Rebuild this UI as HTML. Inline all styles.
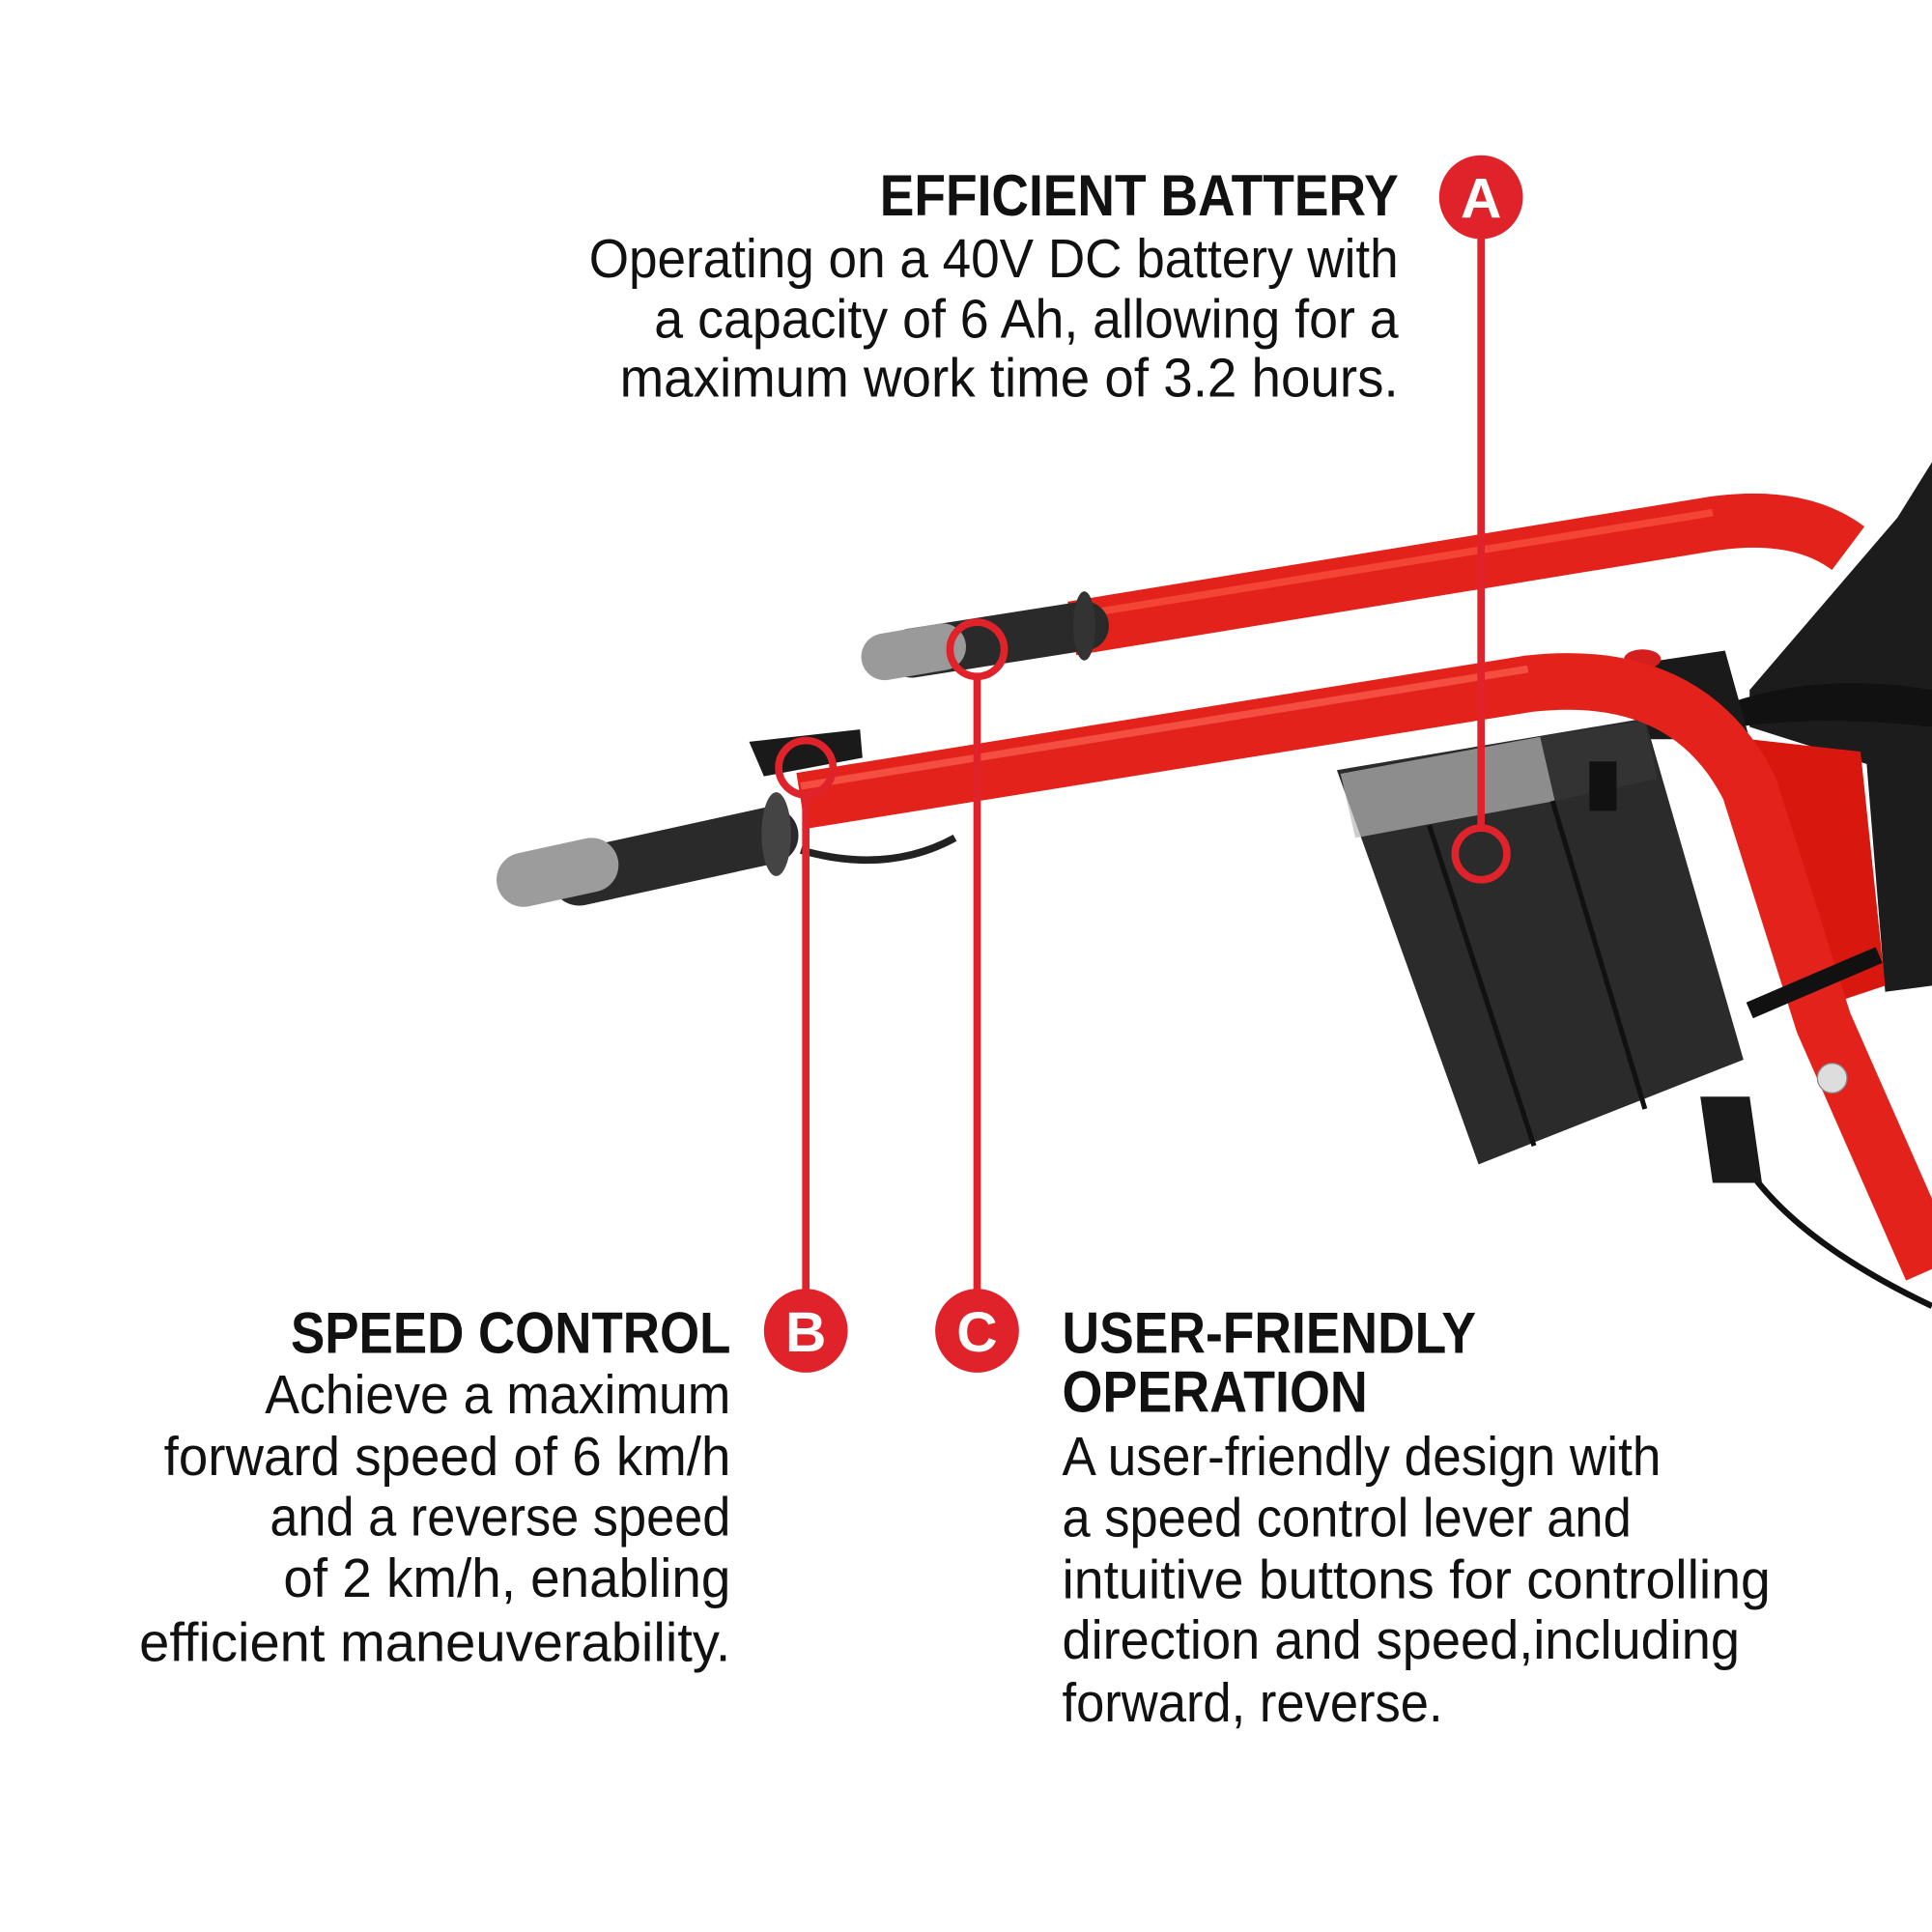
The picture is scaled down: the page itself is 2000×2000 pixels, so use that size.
<!DOCTYPE html>
<html><head><meta charset="utf-8"><style>
html,body{margin:0;padding:0;background:#fff;}
svg{display:block;}
.h{font-family:"Liberation Sans",sans-serif;font-weight:bold;font-size:47px;fill:#111;}
.b{font-family:"Liberation Sans",sans-serif;font-size:44px;fill:#111;}
</style></head><body>
<svg width="2000" height="2000" viewBox="0 0 1568 1568" xmlns="http://www.w3.org/2000/svg">
<rect width="1568" height="1568" fill="#fff"/>
<!-- black tray right -->
<path d="M1420,560 L1540,420 L1568,375 L1568,800 L1530,805 L1515,620 L1420,590 Z" fill="#1c1c1c"/>
<path d="M1405,570 Q1480,545 1568,560 L1568,590 Q1480,580 1410,590 Z" fill="#111"/>
<!-- red bracket behind -->
<path d="M1420,600 L1510,610 L1530,800 L1470,820 L1440,720 Z" fill="#d8170f"/>
<!-- control box behind battery -->
<path d="M1320,540 L1400,528 L1420,600 L1330,600 Z" fill="#1a1a1a"/>
<ellipse cx="1333" cy="535" rx="15" ry="8" fill="#d51e1e"/>
<!-- upper tube -->
<path d="M870,510 L1390,425 Q1460,415 1500,445" stroke="#e3231b" stroke-width="44" fill="none"/>
<path d="M870,500 L1390,416" stroke="#ff5a4a" stroke-width="6" fill="none" opacity="0.6"/>
<!-- upper grip -->
<path d="M740,530 L880,508" stroke="#2a2a2a" stroke-width="40" stroke-linecap="round"/>
<ellipse cx="880" cy="508" rx="9" ry="28" fill="#333"/>
<path d="M718,533 L765,525" stroke="#9a9a9a" stroke-width="38" stroke-linecap="round"/>
<!-- battery -->
<path d="M1085,625 L1335,583 L1415,860 L1200,945 Z" fill="#2b2b2b"/>
<path d="M1088,628 L1250,598 L1262,650 L1100,680 Z" fill="#b8b8b8" opacity="0.7"/>
<path d="M1250,598 L1335,585 L1345,632 L1262,650 Z" fill="#333"/>
<path d="M1160,670 L1245,930" stroke="#111" stroke-width="4"/>
<path d="M1260,650 L1335,900" stroke="#111" stroke-width="4"/>
<rect x="1290" y="618" width="22" height="40" fill="#111"/>
<!-- lower tube -->
<path d="M650,650 L1240,555 Q1370,540 1420,640 L1480,830 L1568,1030" stroke="#e3231b" stroke-width="46" fill="none" stroke-linejoin="round"/>
<path d="M650,638 L1240,543" stroke="#ff6a5a" stroke-width="6" fill="none" opacity="0.6"/>
<!-- clamp -->
<path d="M1420,820 L1525,775" stroke="#111" stroke-width="14"/>
<circle cx="1487" cy="875" r="12" fill="#ddd" stroke="#888"/>
<!-- cables -->
<path d="M1395,900 Q1420,990 1568,1060" stroke="#111" stroke-width="5" fill="none"/>
<path d="M1380,890 L1420,890 L1430,960 L1390,960 Z" fill="#1a1a1a"/>
<!-- lever -->
<path d="M608,602 L698,592 L700,615 L620,630 Z" fill="#1a1a1a"/>
<path d="M650,690 Q720,710 775,680" stroke="#222" stroke-width="6" fill="none"/>
<!-- lower grip -->
<path d="M470,712 L625,678" stroke="#2a2a2a" stroke-width="46" stroke-linecap="round"/>
<ellipse cx="630" cy="677" rx="12" ry="34" fill="#444"/>
<path d="M425,714 L480,702" stroke="#9c9c9c" stroke-width="44" stroke-linecap="round"/>
<!-- callouts -->
<g stroke="#e0222b" stroke-width="6" fill="none">
<line x1="1202" y1="160" x2="1202" y2="672"/>
<circle cx="1202" cy="693" r="21"/>
<line x1="654" y1="1080" x2="654" y2="645"/>
<circle cx="654" cy="623" r="22"/>
<line x1="793" y1="1080" x2="793" y2="550"/>
<circle cx="793" cy="527" r="22"/>
</g>
<g fill="#e0222b">
<circle cx="1202" cy="160" r="34"/>
<circle cx="654" cy="1080" r="34"/>
<circle cx="793" cy="1080" r="34"/>
</g>
<g font-family="Liberation Sans,sans-serif" font-weight="bold" font-size="46" fill="#fff" text-anchor="middle">
<text x="1202" y="177">A</text>
<text x="654" y="1097">B</text>
<text x="793" y="1097">C</text>
</g>
<!-- A text -->
<text class="h" x="714" y="175" textLength="421" lengthAdjust="spacingAndGlyphs">EFFICIENT BATTERY</text>
<text class="b" x="478" y="225" textLength="657" lengthAdjust="spacingAndGlyphs">Operating on a 40V DC battery with</text>
<text class="b" x="531" y="274" textLength="604" lengthAdjust="spacingAndGlyphs">a capacity of 6 Ah, allowing for a</text>
<text class="b" x="503" y="322" textLength="632" lengthAdjust="spacingAndGlyphs">maximum work time of 3.2 hours.</text>
<!-- B text -->
<text class="h" x="236" y="1098" textLength="357" lengthAdjust="spacingAndGlyphs">SPEED CONTROL</text>
<text class="b" x="215" y="1147" textLength="378" lengthAdjust="spacingAndGlyphs">Achieve a maximum</text>
<text class="b" x="133" y="1197" textLength="460" lengthAdjust="spacingAndGlyphs">forward speed of 6 km/h</text>
<text class="b" x="219" y="1246" textLength="374" lengthAdjust="spacingAndGlyphs">and a reverse speed</text>
<text class="b" x="230" y="1296" textLength="363" lengthAdjust="spacingAndGlyphs">of 2 km/h, enabling</text>
<text class="b" x="113" y="1348" textLength="480" lengthAdjust="spacingAndGlyphs">efficient maneuverability.</text>
<!-- C text -->
<text class="h" x="862" y="1098" textLength="336" lengthAdjust="spacingAndGlyphs">USER-FRIENDLY</text>
<text class="h" x="862" y="1146" textLength="248" lengthAdjust="spacingAndGlyphs">OPERATION</text>
<text class="b" x="862" y="1197" textLength="486" lengthAdjust="spacingAndGlyphs">A user-friendly design with</text>
<text class="b" x="862" y="1247" textLength="462" lengthAdjust="spacingAndGlyphs">a speed control lever and</text>
<text class="b" x="862" y="1297" textLength="575" lengthAdjust="spacingAndGlyphs">intuitive buttons for controlling</text>
<text class="b" x="862" y="1346" textLength="550" lengthAdjust="spacingAndGlyphs">direction and speed,including</text>
<text class="b" x="862" y="1397" textLength="309" lengthAdjust="spacingAndGlyphs">forward, reverse.</text>
</svg>
</body></html>
